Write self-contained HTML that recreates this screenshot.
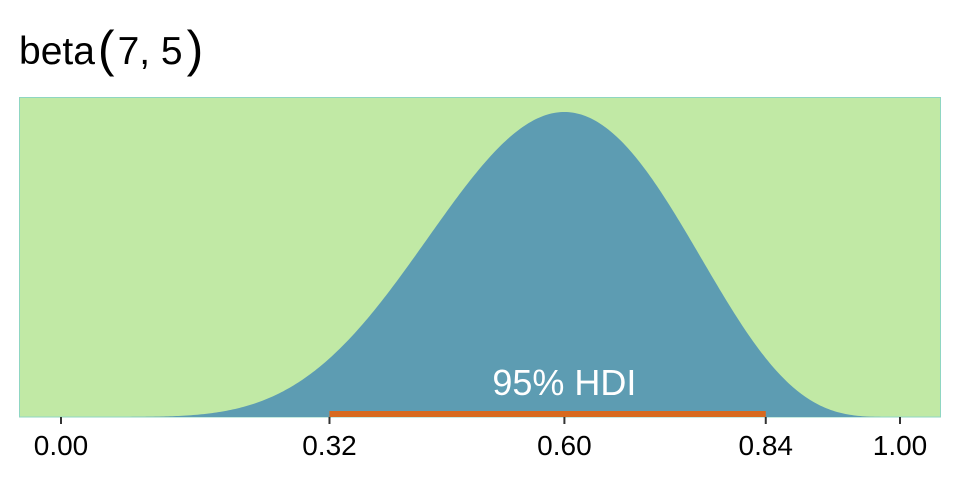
<!DOCTYPE html>
<html><head><meta charset="utf-8"><style>
html,body{margin:0;padding:0;background:#fff;}
svg{display:block;font-family:"Liberation Sans",Arial,sans-serif;}
</style></head><body>
<svg id="chart" width="960" height="480" viewBox="0 0 960 480">
  <text x="19" y="64" font-size="39" fill="#000">beta<tspan font-size="50" dx="3" dy="2">(</tspan><tspan font-size="39" dx="3" dy="-2">7, 5</tspan><tspan font-size="50" dx="4" dy="2">)</tspan></text>
  <rect x="19.5" y="97.5" width="921" height="319.5" fill="#C1E9A5" stroke="#8FD6C2" stroke-width="1"/>
  <g id="marks"></g>
  <g id="axis"></g>
</svg>
<script>
const shapeParams = [7, 5];
const hdiBounds = [0.32, 0.84];
const tickValues = [0, 0.32, 0.60, 0.84, 1.00];
const tickLabels = ["0.00", "0.32", "0.60", "0.84", "1.00"];
const hdiLabel = "95% HDI";

const NS = "http://www.w3.org/2000/svg";
const x = v => 61 + v * 839;
function lgamma(z){const g=[76.18009172947146,-86.50532032941677,24.01409824083091,-1.231739572450155,0.1208650973866179e-2,-0.5395239384953e-5];let y=z,t=z+5.5;t-=(z+0.5)*Math.log(t);let s=1.000000000190015;for(let j=0;j<6;j++)s+=g[j]/++y;return -t+Math.log(2.5066282746310005*s/z);}
const a = shapeParams[0], b = shapeParams[1];
const lB = lgamma(a)+lgamma(b)-lgamma(a+b);
const pdf = p => (p<=0||p>=1)?0:Math.exp((a-1)*Math.log(p)+(b-1)*Math.log(1-p)-lB);
const mode = (a-1)/(a+b-2);
const peak = pdf(mode);
const y = d => 417 - d * (305/peak);

const marks = document.getElementById('marks');
let d = `M${x(0)},417`;
for (let i=0;i<=400;i++){const p=i/400;d+=` L${x(p).toFixed(2)},${y(pdf(p)).toFixed(2)}`;}
d += ` L${x(1)},417 Z`;
const area = document.createElementNS(NS,'path');
area.setAttribute('d', d);
area.setAttribute('fill', '#5D9CB2');


marks.appendChild(area);

const bar = document.createElementNS(NS,'line');
bar.setAttribute('x1', x(hdiBounds[0])); bar.setAttribute('x2', x(hdiBounds[1]));
bar.setAttribute('y1', 414); bar.setAttribute('y2', 414);
bar.setAttribute('stroke', '#D8691E'); bar.setAttribute('stroke-width', '6');


marks.appendChild(bar);

const lab = document.createElementNS(NS,'text');
lab.setAttribute('x', x(mode));
lab.setAttribute('y', 395);
lab.setAttribute('text-anchor', 'middle');
lab.setAttribute('font-size', '36');
lab.setAttribute('fill', '#fff');
lab.textContent = hdiLabel;


marks.appendChild(lab);

const axis = document.getElementById('axis');
tickValues.forEach((v,i)=>{
  const t = document.createElementNS(NS,'line');
  t.setAttribute('x1', x(v)); t.setAttribute('x2', x(v));
  t.setAttribute('y1', 417); t.setAttribute('y2', 424);
  t.setAttribute('stroke', '#333'); t.setAttribute('stroke-width', '2');
  
  
  axis.appendChild(t);
  const l = document.createElementNS(NS,'text');
  l.setAttribute('x', x(v)); l.setAttribute('y', 455);
  l.setAttribute('text-anchor', 'middle'); l.setAttribute('font-size', '28');
  l.setAttribute('fill', '#000');
  l.textContent = tickLabels[i];
  
  
  axis.appendChild(l);
});
</script>
</body></html>
